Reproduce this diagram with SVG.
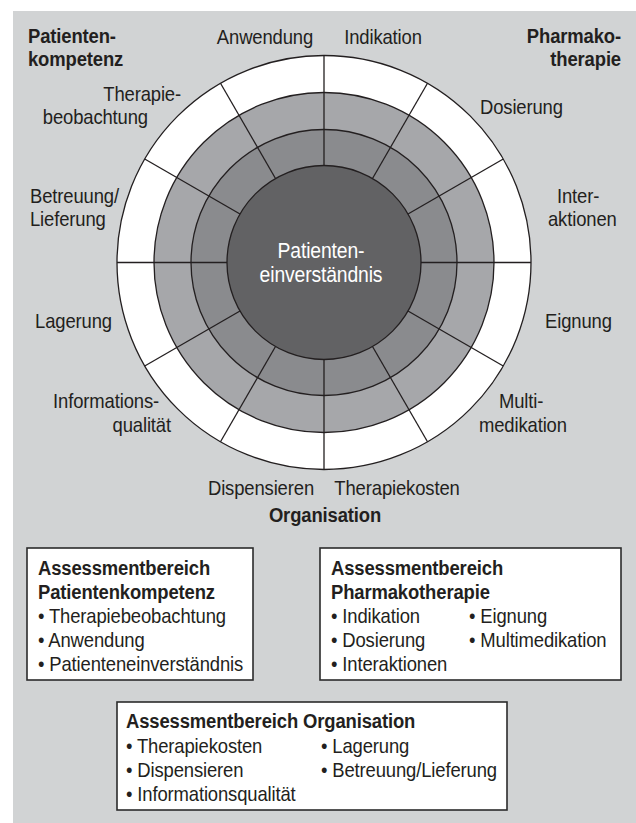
<svg xmlns="http://www.w3.org/2000/svg" width="636" height="823" viewBox="0 0 636 823">
<style>
.t{font-family:"Liberation Sans",Arial,Helvetica,sans-serif;font-size:20.5px;letter-spacing:-0.15px;fill:#231f20}
.b{font-weight:bold}
.w{fill:#ffffff;font-size:21.5px}
.m{text-anchor:middle}
.e{text-anchor:end}
.ring{stroke:#231f20;stroke-width:1.3}
.spoke{stroke:#231f20;stroke-width:1.3}
.box{fill:#ffffff;stroke:#2b2b2b;stroke-width:1.6}
</style>
<rect x="13" y="11" width="623" height="812" fill="#d1d3d4"/>
<g id="wheel">
<circle class="ring" cx="324" cy="262.5" r="207" fill="#ffffff"/>
<circle class="ring" cx="324" cy="262.5" r="170" fill="#a6a7aa"/>
<circle class="ring" cx="324" cy="262.5" r="133" fill="#8a8b8e"/>
<circle class="ring" cx="324" cy="262.5" r="97" fill="#626264"/>
</g>
<g id="spokes">
<line class="spoke" x1="324" y1="165.5" x2="324" y2="55.5"/>
<line class="spoke" x1="324" y1="165.5" x2="324" y2="55.5" transform="rotate(30 324 262.5)"/>
<line class="spoke" x1="324" y1="165.5" x2="324" y2="55.5" transform="rotate(60 324 262.5)"/>
<line class="spoke" x1="324" y1="165.5" x2="324" y2="55.5" transform="rotate(90 324 262.5)"/>
<line class="spoke" x1="324" y1="165.5" x2="324" y2="55.5" transform="rotate(120 324 262.5)"/>
<line class="spoke" x1="324" y1="165.5" x2="324" y2="55.5" transform="rotate(150 324 262.5)"/>
<line class="spoke" x1="324" y1="165.5" x2="324" y2="55.5" transform="rotate(180 324 262.5)"/>
<line class="spoke" x1="324" y1="165.5" x2="324" y2="55.5" transform="rotate(210 324 262.5)"/>
<line class="spoke" x1="324" y1="165.5" x2="324" y2="55.5" transform="rotate(240 324 262.5)"/>
<line class="spoke" x1="324" y1="165.5" x2="324" y2="55.5" transform="rotate(270 324 262.5)"/>
<line class="spoke" x1="324" y1="165.5" x2="324" y2="55.5" transform="rotate(300 324 262.5)"/>
<line class="spoke" x1="324" y1="165.5" x2="324" y2="55.5" transform="rotate(330 324 262.5)"/>
</g>
<g id="box-patientenkompetenz">
<rect class="box" x="27" y="548" width="226" height="132"/>
</g>
<g id="box-pharmakotherapie">
<rect class="box" x="320" y="548" width="301" height="132"/>
</g>
<g id="box-organisation">
<rect class="box" x="117" y="702" width="390" height="108"/>
</g>
<g id="texts" transform="scale(0.9 1)">
<g id="center">
<text class="t w m" x="356.67" y="258">Patienten-</text>
<text class="t w m" x="356.67" y="282">einverständnis</text>
</g>
<g id="domain-patientenkompetenz">
<text class="t b" x="31.11" y="43">Patienten-</text>
<text class="t b" x="31.11" y="66">kompetenz</text>
</g>
<g id="domain-pharmakotherapie">
<text class="t b e" x="690" y="43">Pharmako-</text>
<text class="t b e" x="690" y="66">therapie</text>
</g>
<g id="domain-organisation">
<text class="t b m" x="361.11" y="522">Organisation</text>
</g>
<g id="labels">
<text id="l-anwendung" class="t m" x="294.44" y="44">Anwendung</text>
<text id="l-indikation" class="t m" x="425.56" y="44">Indikation</text>
<g id="l-therapiebeobachtung"><text class="t e" x="201.11" y="101">Therapie-</text><text class="t e" x="164.44" y="124">beobachtung</text></g>
<text id="l-dosierung" class="t" x="533.33" y="114">Dosierung</text>
<g id="l-betreuung"><text class="t" x="33.33" y="203">Betreuung/</text><text class="t" x="33.33" y="226">Lieferung</text></g>
<g id="l-interaktionen"><text class="t" x="618.89" y="203">Inter-</text><text class="t" x="608.89" y="226">aktionen</text></g>
<text id="l-lagerung" class="t e" x="124.44" y="328">Lagerung</text>
<text id="l-eignung" class="t" x="605.56" y="328">Eignung</text>
<g id="l-informationsqualitaet"><text class="t e" x="176.67" y="408">Informations-</text><text class="t e" x="190" y="432">qualität</text></g>
<g id="l-multimedikation"><text class="t" x="554.44" y="408">Multi-</text><text class="t" x="532.22" y="432">medikation</text></g>
<text id="l-dispensieren" class="t m" x="290" y="495">Dispensieren</text>
<text id="l-therapiekosten" class="t m" x="441.11" y="495">Therapiekosten</text>
</g>
<g id="box1-text">
<text class="t b" x="42.22" y="575">Assessmentbereich</text>
<text class="t b" x="42.22" y="599">Patientenkompetenz</text>
<text class="t" x="42.22" y="623">• Therapiebeobachtung</text>
<text class="t" x="42.22" y="647">• Anwendung</text>
<text class="t" x="42.22" y="671">• Patienteneinverständnis</text>
</g>
<g id="box2-text">
<text class="t b" x="367.78" y="575">Assessmentbereich</text>
<text class="t b" x="367.78" y="599">Pharmakotherapie</text>
<text class="t" x="367.78" y="623">• Indikation</text>
<text class="t" x="521.11" y="623">• Eignung</text>
<text class="t" x="367.78" y="647">• Dosierung</text>
<text class="t" x="521.11" y="647">• Multimedikation</text>
<text class="t" x="367.78" y="671">• Interaktionen</text>
</g>
<g id="box3-text">
<text class="t b" x="140" y="728">Assessmentbereich Organisation</text>
<text class="t" x="140" y="753">• Therapiekosten</text>
<text class="t" x="356.67" y="753">• Lagerung</text>
<text class="t" x="140" y="777">• Dispensieren</text>
<text class="t" x="356.67" y="777">• Betreuung/Lieferung</text>
<text class="t" x="140" y="801">• Informationsqualität</text>
</g>
</g>
</svg>
